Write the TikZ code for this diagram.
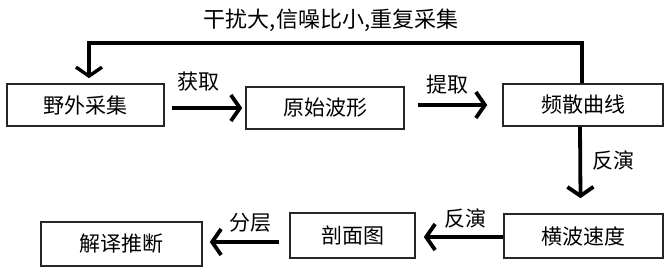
\documentclass[tikz,border=0pt]{standalone}
\usepackage{fontspec}
\newfontfamily\cjk{Noto Sans CJK SC}
\usetikzlibrary{arrows.meta,calc}
\begin{document}
\begin{tikzpicture}[x=1pt,y=-1pt,
  box/.style={draw=black!85,line width=1.6pt,minimum height=42pt,inner sep=0pt,font=\cjk\fontsize{21}{21}\selectfont},
  arr/.style={line width=3.8pt,-{Straight Barb[length=9pt,width=26pt]}},
  lbl/.style={font=\cjk\fontsize{21}{21}\selectfont,inner sep=0pt}]
\useasboundingbox (0,0) rectangle (665,270);
\node[box,minimum width=157pt] (n1) at (85.5,105) {野外采集};
\node[box,minimum width=158pt] (n2) at (325,108) {原始波形};
\node[box,minimum width=160pt] (n3) at (583,105) {频散曲线};
\node[box,minimum width=159pt,minimum height=44pt] (n4) at (583.5,236) {横波速度};
\node[box,minimum width=125pt,minimum height=45pt] (n5) at (352.5,235.5) {剖面图};
\node[box,minimum width=161pt,minimum height=44pt] (n6) at (121.5,244) {解译推断};
\coordinate (top) at (0,43);
\draw[arr,line width=3.4pt] ([xshift=-1pt]n3.north) -- ([xshift=-1pt]n3.north |- top) -| ([xshift=3.5pt,yshift=5pt]n1.north);
\draw[arr] ([xshift=7pt]n1.east |- n2.west) -- ([xshift=-3pt]n2.west);
\draw[arr] ([xshift=13pt]n2.east |- n3.west) -- ([xshift=-15pt]n3.west);
\draw[arr] ([xshift=-3pt]n3.south) -- ([xshift=-3pt,yshift=15pt]n4.north);
\draw[arr] ([yshift=-1pt]n4.west) -- ([xshift=8pt,yshift=-1.5pt]n5.east);
\draw[arr] ([xshift=-10pt,yshift=-6.5pt]n5.west) -- ([xshift=7pt,yshift=2pt]n6.east);
\node[lbl,font=\cjk\fontsize{22}{22}\selectfont] (l0) at (331,20) {干扰大,信噪比小,重复采集};
\node[lbl] (l1) at (198,82) {获取};
\node[lbl] (l2) at (447,85) {提取};
\node[lbl] (l3) at (613,160) {反演};
\node[lbl] (l4) at (465,218) {反演};
\node[lbl] (l5) at (250,223) {分层};
\end{tikzpicture}
\end{document}
